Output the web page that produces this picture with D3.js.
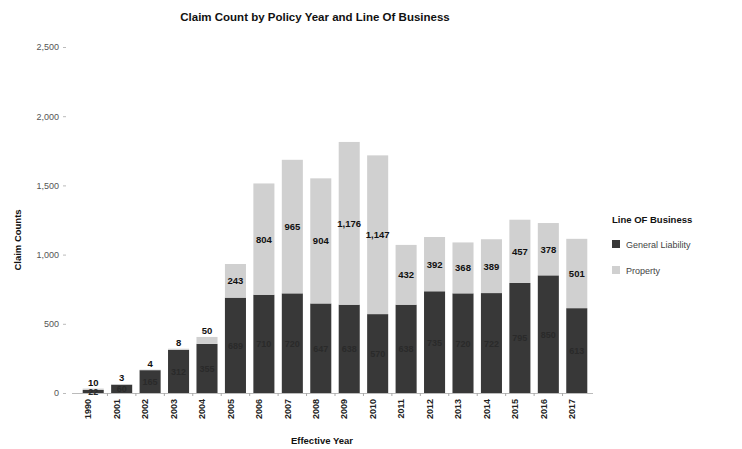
<!DOCTYPE html>
<html>
<head>
<meta charset="utf-8">
<script src="https://cdn.jsdelivr.net/npm/d3@7"></script>
<style>
  html, body { margin: 0; padding: 0; background: #fff; }
  svg { display: block; font-family: "Liberation Sans", Arial, sans-serif; }
</style>
</head>
<body>
<svg id="chart" width="742" height="449"></svg>
<script>
// Policy years on the x axis
const years = ["1990","2001","2002","2003","2004","2005","2006","2007","2008","2009",
               "2010","2011","2012","2013","2014","2015","2016","2017"];
// Claim counts per line of business
const generalLiability = [22, 60, 165, 312, 355, 689, 710, 720, 647, 638,
                          570, 638, 735, 720, 722, 795, 850, 613];
const property = [10, 3, 4, 8, 50, 243, 804, 965, 904, 1176,
                  1147, 432, 392, 368, 389, 457, 378, 501];
const seriesNames = ["General Liability", "Property"];
const yTicks = [0, 500, 1000, 1500, 2000, 2500];

const colors = { "General Liability": "#383838", "Property": "#d0d0d0" };

const svg = d3.select("#chart");

const x = d3.scaleBand().domain(years).range([79, 591]).paddingInner(0.26).paddingOuter(0.13);
const y = d3.scaleLinear().domain([0, 2500]).range([393, 47]);

const rows = years.map((yr, i) => ({
  year: yr,
  "General Liability": generalLiability[i],
  "Property": property[i]
}));
const stacked = d3.stack().keys(seriesNames)(rows);

// Title
svg.append("text")
  .attr("x", 315).attr("y", 21)
  .attr("text-anchor", "middle")
  .attr("font-size", 11.5).attr("font-weight", "bold").attr("fill", "#111")
  .text("Claim Count by  Policy Year and Line Of Business");

// Y axis
const yAxis = svg.append("g")
  .attr("transform", "translate(66,0)")
  .call(d3.axisLeft(y).tickValues(yTicks).tickSize(3).tickPadding(4)
        .tickFormat(d3.format(",")));
yAxis.select(".domain").remove();
yAxis.selectAll("line").attr("stroke", "#bbb");
yAxis.selectAll("text").attr("font-size", 9).attr("fill", "#555");

// X axis
const xAxis = svg.append("g")
  .attr("transform", "translate(0,393)")
  .call(d3.axisBottom(x).tickSize(0).tickPadding(6));
xAxis.select(".domain").attr("stroke", "#bbb").attr("d", "M72,0.5H593");
xAxis.selectAll("text")
  .attr("font-size", 9).attr("fill", "#222").attr("font-weight", "bold")
  .attr("transform", "rotate(-90)")
  .attr("text-anchor", "end")
  .attr("dx", "-6").attr("dy", "-0.2em")
  .attr("y", 0).attr("x", 0);
// small separators between bands
svg.append("g").selectAll("line")
  .data(years.slice(1))
  .join("line")
  .attr("x1", d => x(d) - x.step() * x.paddingInner() / 2)
  .attr("x2", d => x(d) - x.step() * x.paddingInner() / 2)
  .attr("y1", 393).attr("y2", 396)
  .attr("stroke", "#aaa");

// Bars
const layers = svg.append("g").selectAll("g")
  .data(stacked)
  .join("g")
  .attr("fill", d => colors[d.key]);
layers.selectAll("rect")
  .data(d => d)
  .join("rect")
  .attr("x", d => x(d.data.year))
  .attr("width", x.bandwidth())
  .attr("y", d => y(d[1]))
  .attr("height", d => y(d[0]) - y(d[1]));

// Value labels: centred in each segment; thin property segments get theirs just above the bar
const fmt = d3.format(",");
const labelY = (d, key) => {
  const h = y(d[0]) - y(d[1]);
  if (key === "Property" && h < 12) return y(d[1]) - 3;
  return (y(d[0]) + y(d[1])) / 2 + 3.5;
};
stacked.forEach(layer => {
  svg.append("g").selectAll("text")
    .data(layer)
    .join("text")
    .attr("x", d => x(d.data.year) + x.bandwidth() / 2)
    .attr("y", d => labelY(d, layer.key))
    .attr("text-anchor", "middle")
    .attr("font-size", layer.key === "Property" ? 9.5 : 9)
    .attr("font-weight", "bold")
    .attr("fill", layer.key === "Property" ? "#111" : "#2a2a2a")
    .text(d => fmt(d.data[layer.key]));
});

// Axis titles
svg.append("text")
  .attr("transform", "translate(21,240) rotate(-90)")
  .attr("text-anchor", "middle")
  .attr("font-size", 9.5).attr("font-weight", "bold").attr("fill", "#111")
  .text("Claim Counts");
svg.append("text")
  .attr("x", 322).attr("y", 444)
  .attr("text-anchor", "middle")
  .attr("font-size", 9.5).attr("font-weight", "bold").attr("fill", "#111")
  .text("Effective Year");

// Legend
const legend = svg.append("g").attr("transform", "translate(612,0)");
legend.append("text")
  .attr("x", 0).attr("y", 223)
  .attr("font-size", 9.5).attr("font-weight", "bold").attr("fill", "#111")
  .text("Line OF Business");
seriesNames.forEach((name, i) => {
  const yy = 244 + i * 26;
  legend.append("rect")
    .attr("x", 0).attr("y", yy - 4)
    .attr("width", 8).attr("height", 8)
    .attr("fill", colors[name]);
  legend.append("text")
    .attr("x", 14).attr("y", yy + 3.5)
    .attr("font-size", 9).attr("fill", "#444")
    .text(name);
});
</script>
</body>
</html>
